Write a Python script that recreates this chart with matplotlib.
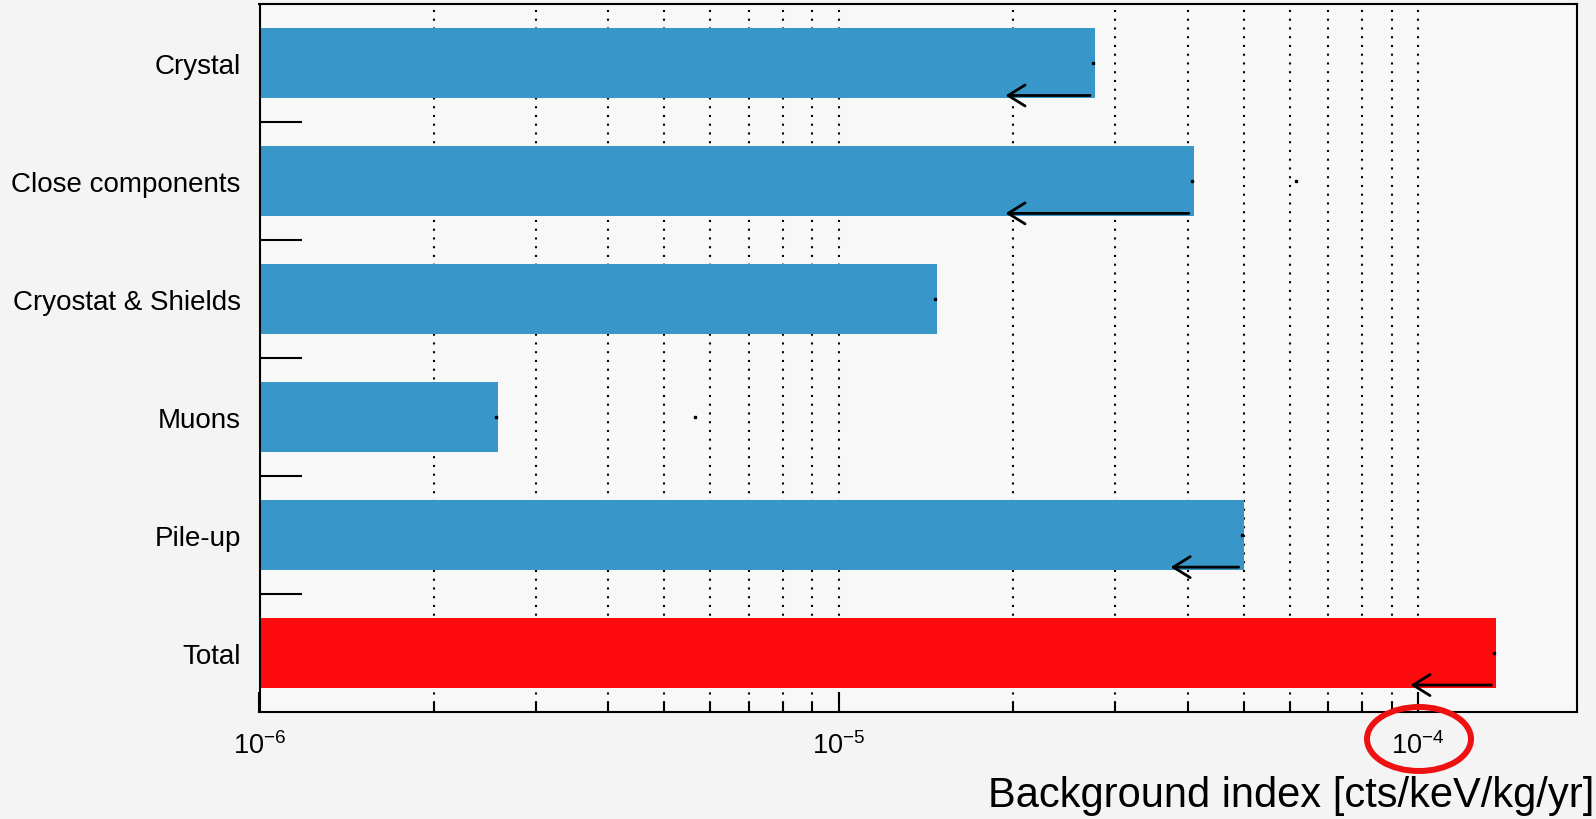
import matplotlib
matplotlib.use("Agg")
import matplotlib.pyplot as plt
from matplotlib.patches import Ellipse
from matplotlib.ticker import LogLocator, NullFormatter, FixedLocator
import numpy as np

plt.rcParams['font.family'] = ['Liberation Sans', 'DejaVu Sans']
plt.rcParams['mathtext.fontset'] = 'custom'
plt.rcParams['mathtext.rm'] = 'Liberation Sans'
plt.rcParams['mathtext.it'] = 'Liberation Sans:italic'
plt.rcParams['mathtext.bf'] = 'Liberation Sans:bold'

# Background index per source [cts/keV/kg/yr]
categories = ["Crystal", "Close components", "Cryostat & Shields", "Muons", "Pile-up", "Total"]
values = [2.77e-5, 4.10e-5, 1.48e-5, 2.58e-6, 5.00e-5, 1.365e-4]
# Sources quoted as upper limits: arrow runs from the bar end down to this value
limit_categories = ["Crystal", "Close components", "Pile-up", "Total"]
limit_lower = [1.94e-5, 1.94e-5, 3.74e-5, 9.7e-5]
# Single extra points drawn as small markers
extra_categories = ["Close components", "Muons"]
extra_values = [6.15e-5, 5.65e-6]

XMIN, XMAX = 1e-6, 1.88e-4
BLUE = "#3996c8"
RED = "#fd0a0c"

fig = plt.figure(figsize=(15.96, 8.20), dpi=100, facecolor="#f4f4f4")
ax = fig.add_axes([259.5 / 1596, 1 - 712.6 / 820, (1577 - 259.5) / 1596, (712.6 - 5.1) / 820])
ax.set_facecolor("#f8f8f8")

n = len(categories)
ypos = np.arange(n) + 0.5
colors = [RED if c == "Total" else BLUE for c in categories]

ax.set_xscale("log")
ax.set_xlim(XMIN, XMAX)
ax.set_ylim(n, 0)

# bars start at the left edge of the axis and end at each value
ax.barh(ypos, [v - XMIN for v in values], left=XMIN, height=0.595,
        color=colors, zorder=2)

# Upper-limit arrows along the lower edge of the bars
for cat, low in zip(limit_categories, limit_lower):
    i = categories.index(cat)
    y = ypos[i] + 0.275
    ax.annotate("", xy=(low, y), xytext=(values[i] * 0.98, y),
                arrowprops=dict(arrowstyle="->, head_length=0.45, head_width=0.28",
                                lw=2.0, color="black", shrinkA=0, shrinkB=0,
                                mutation_scale=27),
                zorder=4)

# Central markers at the bar ends
ax.plot([v * 0.992 for v in values], ypos, ls="none", marker="s", ms=1.6,
        color="black", zorder=4)
ax.plot(extra_values, [ypos[categories.index(c)] for c in extra_categories],
        ls="none", marker="s", ms=1.6, color="black", zorder=4)

# x axis: log ticks pointing inward, dotted grid at every tick
ax.xaxis.set_major_locator(LogLocator(base=10, numticks=10))
ax.xaxis.set_minor_locator(LogLocator(base=10, subs=np.arange(2, 10), numticks=20))
ax.xaxis.set_minor_formatter(NullFormatter())
ax.tick_params(axis="x", which="major", direction="in", length=14.4, width=1.5,
               labelsize=19.5, pad=14, top=False)
ax.tick_params(axis="x", which="minor", direction="in", length=7.2, width=1.5, top=False)
ax.grid(True, axis="x", which="both", color="black", linestyle=(0, (1, 3.2)), lw=1.5)
ax.set_axisbelow(True)

# y axis: separators between rows, labels centred in rows
ax.yaxis.set_major_locator(FixedLocator(np.arange(1, n)))
ax.set_yticklabels([], minor=False)
ax.set_yticks(ypos, categories, minor=True)
ax.tick_params(axis="y", which="major", direction="in", length=30, width=1.5, right=False)
ax.tick_params(axis="y", which="minor", length=0, labelsize=20, pad=13.5, right=False)

for s in ax.spines.values():
    s.set_linewidth(1.5)
    s.set_zorder(5)

fig.text(1594 / 1596, 1 - 807 / 820, "Background index [cts/keV/kg/yr]",
         ha="right", va="baseline", fontsize=30)

# Highlight around the 10^-4 tick label
fig.patches.append(Ellipse((1419 / 1596, 1 - 740 / 820), 104 / 1596, 64 / 820,
                           transform=fig.transFigure, fill=False,
                           edgecolor="#ee1111", lw=4.3))

fig.savefig("out.png", dpi=100, facecolor=fig.get_facecolor())
